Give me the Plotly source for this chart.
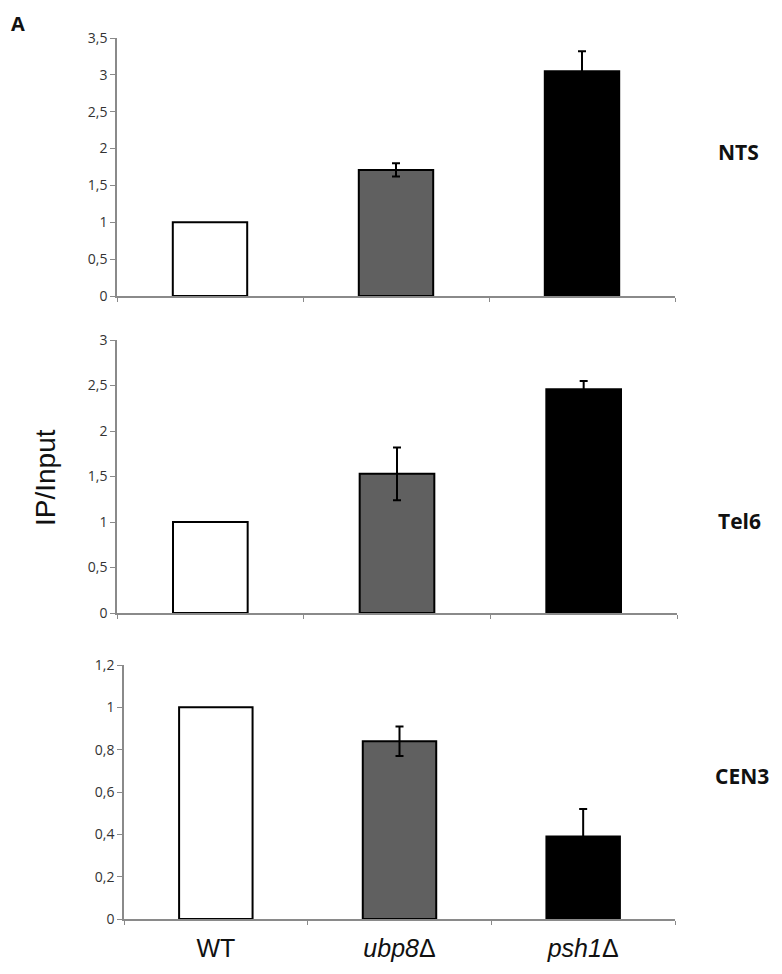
import plotly.graph_objects as go

categories = ["WT", "ubp8Δ", "psh1Δ"]
cat_labels = ["WT", "<i>ubp8</i>Δ", "<i>psh1</i>Δ"]
panels = ["NTS", "Tel6", "CEN3"]
nts_vals = [1.0, 1.71, 3.05]
nts_err = [None, 0.09, 0.27]
tel6_vals = [1.0, 1.53, 2.46]
tel6_err = [None, 0.29, 0.09]
cen3_vals = [1.0, 0.84, 0.39]
cen3_err = [None, 0.07, 0.13]
y_max = [3.5, 3.0, 1.2]
y_step = [0.5, 0.5, 0.2]

bar_colors = ["#ffffff", "#606060", "#000000"]

W, H = 782, 974
OFF = 8  # browser body margin compensation

def fx(px):
    return (px - OFF) / W

def fy(py):
    return 1 - (py - OFF) / H

x_domains = [[fx(117), fx(675)], [fx(117), fx(677)], [fx(124), fx(675)]]
y_domains = [[fy(296), fy(38)], [fy(613), fy(340)], [fy(919), fy(665)]]

fig = go.Figure()
vals_all = [nts_vals, tel6_vals, cen3_vals]
errs_all = [nts_err, tel6_err, cen3_err]
for i in range(3):
    xa = "x" if i == 0 else f"x{i+1}"
    ya = "y" if i == 0 else f"y{i+1}"
    fig.add_trace(go.Bar(
        x=categories, y=vals_all[i], xaxis=xa, yaxis=ya,
        width=0.4,
        marker=dict(color=bar_colors, line=dict(color="#000000", width=2)),
        showlegend=False, hoverinfo="skip",
    ))
    ex = [c for c, e in zip(categories, errs_all[i]) if e is not None]
    ey = [v for v, e in zip(vals_all[i], errs_all[i]) if e is not None]
    ee = [e for e in errs_all[i] if e is not None]
    fig.add_trace(go.Scatter(
        x=ex, y=ey, xaxis=xa, yaxis=ya, mode="markers",
        marker=dict(size=1, opacity=0),
        error_y=dict(type="data", array=ee, visible=True,
                     color="#000000", thickness=2, width=4),
        showlegend=False, hoverinfo="skip",
    ))
    xkey = "xaxis" if i == 0 else f"xaxis{i+1}"
    ykey = "yaxis" if i == 0 else f"yaxis{i+1}"
    fig.layout[xkey] = dict(
        domain=x_domains[i], anchor=ya, type="category",
        categoryorder="array", categoryarray=categories,
        range=[-0.5, 2.5], showline=True, linecolor="#8a8a8a", linewidth=1.5,
        ticks="outside", tickson="boundaries", ticklen=4, tickcolor="#8a8a8a",
        showgrid=False, zeroline=False, automargin=False,
        showticklabels=(i == 2), ticklabelstandoff=6,
        tickvals=categories, ticktext=cat_labels,
        tickfont=dict(family="Liberation Sans, Arial", size=25, color="#111111"),
    )
    fig.layout[ykey] = dict(
        domain=y_domains[i], anchor=xa, range=[0, y_max[i]], dtick=y_step[i],
        tick0=0, showline=True, linecolor="#8a8a8a", linewidth=1.5,
        ticks="outside", ticklen=5, tickcolor="#8a8a8a",
        showgrid=False, zeroline=False, automargin=False,
        tickfont=dict(family="Open Sans", size=14, color="#333333"),
    )

label_pos = [(716, 152), (716, 521), (713, 776)]
for name, (px, py) in zip(panels, label_pos):
    fig.add_annotation(text=f"<b>{name}</b>", x=fx(px), y=fy(py), xref="paper", yref="paper",
                       xanchor="left", yanchor="middle", showarrow=False,
                       font=dict(family="Open Sans", size=21, color="#111111"))

fig.add_annotation(text="IP/Input", x=fx(45), y=fy(478), xref="paper", yref="paper",
                   textangle=-90, showarrow=False, xanchor="center", yanchor="middle",
                   font=dict(family="Liberation Sans, Arial", size=28, color="#111111"))
fig.add_annotation(text="<b>A</b>", x=fx(18), y=1.0, xref="paper", yref="paper",
                   xanchor="center", yanchor="top", showarrow=False,
                   font=dict(family="Open Sans", size=20, color="#111111"))

fig.update_layout(
    width=W, height=H, margin=dict(l=0, r=0, t=0, b=0, pad=0),
    paper_bgcolor="#ffffff", plot_bgcolor="#ffffff",
    separators=",.", bargap=0.6,
)
fig.write_html("out.html")
